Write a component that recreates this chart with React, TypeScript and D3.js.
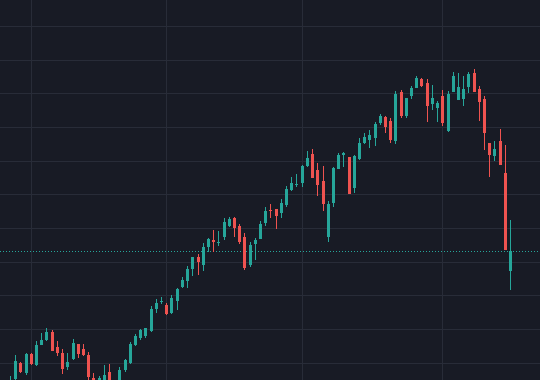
import React from 'react';
import * as d3 from 'd3';

const opens = [11.3, 15.1, 19.9, 16.8, 22.7, 19.3, 25.3, 26.7, 29.2, 24.7, 23.0, 18.8, 21.0, 25.5, 24.1, 22.3, 15.4, 13.4, 13.1, 17.2, 10.1, 13.7, 17.8, 19.8, 25.2, 27.3, 27.9, 29.4, 35.9, 37.9, 37.1, 34.7, 38.3, 42.5, 44.2, 47.7, 51.3, 49.0, 54.4, 56.4, 55.6, 57.3, 60.6, 63.0, 60.6, 57.3, 49.0, 55.2, 56.7, 61.5, 65.3, 65.6, 64.5, 66.8, 71.3, 72.8, 73.4, 78.4, 82.0, 77.2, 74.0, 57.3, 67.4, 77.5, 81.8, 81.1, 71.9, 80.5, 85.2, 86.1, 86.8, 91.2, 93.0, 91.8, 85.8, 100.4, 93.3, 99.2, 101.6, 104.2, 103.1, 96.8, 95.6, 99.2, 88.8, 100.4, 98.0, 98.3, 101.9, 106.0, 101.3, 98.3, 85.2, 81.4, 85.8, 76.3, 47.2];
const highs = [16.0, 22.3, 20.1, 23.0, 23.0, 26.4, 28.9, 30.3, 29.8, 26.4, 24.1, 22.9, 27.1, 25.6, 25.6, 23.1, 16.9, 16.0, 19.3, 19.6, 14.3, 18.7, 21.1, 26.1, 28.5, 30.1, 30.4, 36.8, 38.9, 39.5, 37.7, 40.1, 42.2, 45.4, 48.7, 51.4, 52.3, 55.4, 57.0, 59.4, 59.1, 63.0, 63.3, 63.3, 61.2, 58.5, 55.8, 57.0, 62.1, 66.2, 67.0, 65.7, 68.6, 72.5, 75.1, 76.0, 78.7, 82.9, 83.5, 79.3, 78.4, 68.0, 78.1, 82.3, 82.6, 81.2, 81.7, 86.7, 88.1, 89.1, 91.5, 93.9, 93.3, 92.7, 100.7, 101.0, 98.7, 102.2, 105.1, 104.6, 104.3, 102.5, 97.7, 101.0, 100.7, 106.3, 106.0, 105.1, 106.3, 107.2, 102.2, 99.2, 85.3, 85.8, 89.4, 84.6, 62.4];
const lows = [10.4, 14.6, 16.9, 16.3, 19.3, 19.0, 25.2, 26.5, 23.5, 22.0, 16.7, 17.8, 20.8, 21.5, 21.9, 14.9, 11.3, 12.5, 11.9, 10.4, 9.2, 13.1, 17.2, 19.6, 24.9, 26.7, 27.3, 29.2, 34.7, 37.4, 34.1, 34.6, 35.6, 42.2, 42.2, 45.7, 46.0, 47.2, 53.0, 52.9, 54.6, 56.4, 60.3, 57.3, 55.2, 47.5, 48.4, 50.5, 56.6, 60.6, 63.0, 59.7, 63.0, 66.2, 71.0, 72.2, 72.2, 78.1, 74.8, 69.5, 65.0, 55.8, 66.2, 77.5, 78.1, 70.0, 70.4, 80.2, 84.9, 83.8, 84.3, 90.6, 88.2, 85.2, 84.9, 92.7, 92.7, 98.3, 101.5, 101.9, 91.5, 95.0, 91.5, 90.3, 88.5, 100.3, 98.0, 96.2, 100.1, 100.3, 91.8, 83.2, 75.1, 79.9, 78.6, 53.4, 41.6];
const closes = [14.9, 20.5, 17.2, 22.7, 19.6, 25.3, 26.7, 29.1, 23.6, 22.8, 18.0, 20.2, 25.8, 22.6, 22.3, 15.8, 12.5, 15.4, 16.3, 11.3, 13.7, 17.8, 20.8, 25.5, 27.9, 29.7, 30.3, 35.9, 37.7, 38.2, 34.4, 39.2, 41.9, 44.5, 47.8, 51.3, 49.9, 54.3, 56.6, 55.9, 55.9, 61.8, 62.7, 60.0, 55.8, 48.0, 54.9, 56.4, 61.2, 65.0, 65.0, 63.6, 67.4, 71.6, 73.4, 73.1, 78.4, 80.8, 74.8, 72.8, 67.1, 67.1, 77.8, 81.7, 82.3, 70.1, 81.4, 85.2, 87.0, 87.6, 90.9, 93.3, 90.0, 86.1, 99.8, 93.3, 98.6, 101.6, 104.5, 102.2, 96.2, 98.6, 97.1, 91.2, 99.8, 105.1, 101.9, 101.3, 105.7, 100.4, 97.4, 88.3, 81.7, 83.5, 78.7, 53.5, 53.2];

const priceGrid = [20, 30, 40, 50, 60, 70, 80, 90, 100, 110, 120];
const timeGridIdx = [4, 30, 56, 83];

const W = 540;
const H = 380;
const UP = '#26a69a';
const DOWN = '#ef5350';
const BG = '#181b25';
const GRID = '#282c38';

export default function App() {
  const n = opens.length;
  const x = d3.scaleLinear().domain([0, n - 1]).range([10, 510]);
  const y = d3.scaleLinear().domain([14.85, 127.71]).range([H, 0]);
  const lastClose = closes[n - 1];
  const lastUp = closes[n - 1] >= opens[n - 1];

  return (
    <svg
      width={W}
      height={H}
      style={{ position: 'fixed', left: 0, top: 0, display: 'block' }}
    >
      <rect x={0} y={0} width={W} height={H} fill={BG} />
      <g shapeRendering="crispEdges">
        {priceGrid.map((p) => {
          const yy = Math.round(y(p)) + 0.5;
          return <line key={'h' + p} x1={0} x2={W} y1={yy} y2={yy} stroke={GRID} strokeWidth={1} />;
        })}
        {timeGridIdx.map((i) => {
          const xx = Math.round(x(i)) + 0.5;
          return <line key={'v' + i} x1={xx} x2={xx} y1={0} y2={H} stroke={GRID} strokeWidth={1} />;
        })}
      </g>
      <line
        x1={0}
        x2={W}
        y1={Math.round(y(lastClose)) + 0.5}
        y2={Math.round(y(lastClose)) + 0.5}
        stroke={lastUp ? UP : DOWN}
        strokeWidth={1}
        strokeDasharray="1 2"
        shapeRendering="crispEdges"
      />
      <g shapeRendering="crispEdges">
        {opens.map((o, i) => {
          const c = closes[i];
          const up = c >= o;
          const col = Math.round(x(i));
          const color = up ? UP : DOWN;
          const wTop = Math.round(y(highs[i]));
          const wBot = Math.round(y(lows[i]));
          const bTop = Math.round(y(Math.max(o, c)));
          const bBot = Math.round(y(Math.min(o, c)));
          return (
            <g key={i}>
              <rect x={col} y={wTop} width={1} height={Math.max(1, wBot - wTop)} fill={color} />
              <rect x={col - 1} y={bTop} width={3} height={Math.max(1, bBot - bTop)} fill={color} />
            </g>
          );
        })}
      </g>
    </svg>
  );
}
